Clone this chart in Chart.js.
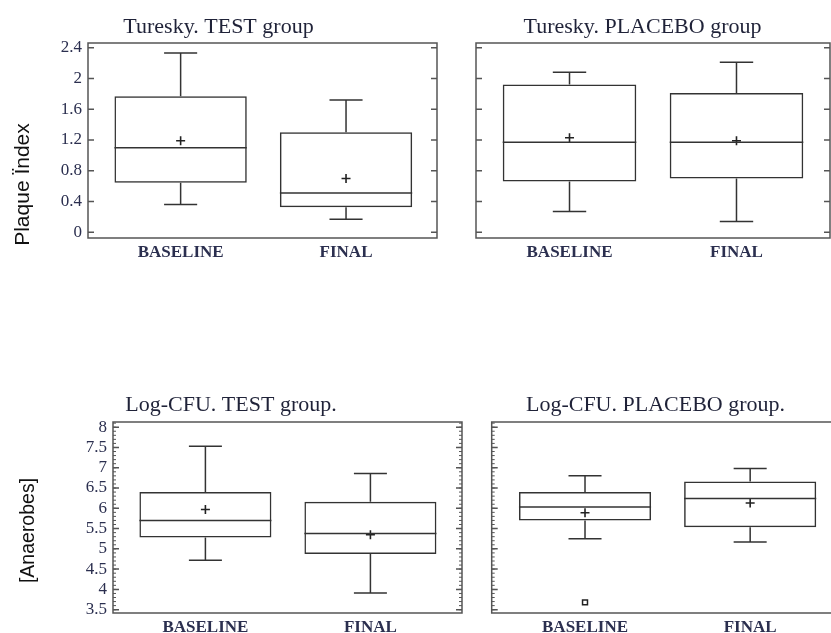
<!DOCTYPE html>
<html>
<head>
<meta charset="utf-8">
<script src="https://cdn.jsdelivr.net/npm/chart.js@4.4.1/dist/chart.umd.min.js"></script>
<style>
  html, body { margin: 0; padding: 0; background: #fff; overflow: hidden; width: 831px; height: 633px; }
  canvas { position: absolute; }
</style>
</head>
<body>
<canvas id="tl" width="512" height="270" style="left:0px;top:0px"></canvas>
<canvas id="tr" width="376" height="270" style="left:455px;top:0px"></canvas>
<canvas id="bl" width="559" height="253" style="left:0px;top:380px"></canvas>
<canvas id="br" width="372" height="253" style="left:470px;top:380px"></canvas>
<script>
const categories = ['BASELINE', 'FINAL'];
const tureskyTickLabels = ['0', '0.4', '0.8', '1.2', '1.6', '2', '2.4'];
const cfuTickLabels = ['3.5', '4', '4.5', '5', '5.5', '6', '6.5', '7', '7.5', '8'];

// each box: [min, q1, median, q3, max]
const tureskyTest = [[0.36, 0.645, 1.10, 1.77, 2.33], [0.17, 0.325, 0.51, 1.30, 1.72]];
const tureskyTestMean = [1.19, 0.70];
const tureskyPlacebo = [[0.27, 0.66, 1.17, 1.92, 2.08], [0.14, 0.70, 1.17, 1.81, 2.21]];
const tureskyPlaceboMean = [1.23, 1.19];
const cfuTest = [[4.72, 5.28, 5.70, 6.40, 7.53], [3.91, 4.87, 5.38, 6.16, 6.86]];
const cfuTestMean = [5.97, 5.35];
const cfuPlacebo = [[5.25, 5.70, 6.03, 6.40, 6.80], [5.17, 5.53, 6.24, 6.66, 6.98]];
const cfuPlaceboMean = [5.89, 6.13];
const cfuPlaceboOutliers = [3.68, null];

const serif = '"Liberation Serif", "Times New Roman", serif';
const inkColor = '#333';
const tickColor = '#2b2f4f';

// median line + whiskers, placed with the chart's own scales
const boxParts = {
  id: 'boxParts',
  afterDatasetsDraw(chart, args, opts) {
    const ctx = chart.ctx, xs = chart.scales.x, ys = chart.scales.y;
    const meta = chart.getDatasetMeta(0);
    const py = v => ys.getPixelForValue(v);
    ctx.save();
    ctx.strokeStyle = inkColor;
    ctx.lineWidth = 1.5;
    opts.box.forEach((b, i) => {
      const cx = xs.getPixelForValue(i + 1);
      const hw = meta.data[i].width / 2;
      const cap = xs.getPixelForValue(i + 1.1) - cx;
      ctx.beginPath();
      ctx.moveTo(cx - hw, py(b[2])); ctx.lineTo(cx + hw, py(b[2]));
      ctx.moveTo(cx, py(b[3])); ctx.lineTo(cx, py(b[4]));
      ctx.moveTo(cx - cap, py(b[4])); ctx.lineTo(cx + cap, py(b[4]));
      ctx.moveTo(cx, py(b[1])); ctx.lineTo(cx, py(b[0]));
      ctx.moveTo(cx - cap, py(b[0])); ctx.lineTo(cx + cap, py(b[0]));
      ctx.stroke();
    });
    ctx.restore();
  }
};

// frame with inward ticks on both sides, plus the side label
const frame = {
  id: 'frame',
  afterDraw(chart, args, opts) {
    const ctx = chart.ctx, ys = chart.scales.y;
    const {left, right, top, bottom} = chart.chartArea;
    ctx.save();
    ctx.strokeStyle = '#555';
    ctx.lineWidth = 1.5;
    ctx.strokeRect(left, top, right - left, bottom - top);
    ctx.beginPath();
    opts.major.forEach(v => {
      const p = ys.getPixelForValue(v);
      ctx.moveTo(left, p); ctx.lineTo(left + 6, p);
      ctx.moveTo(right, p); ctx.lineTo(right - 6, p);
    });
    ctx.stroke();
    if (opts.minorStep) {
      ctx.lineWidth = 1;
      ctx.beginPath();
      for (let v = ys.min; v <= ys.max; v += 0.01) {
        const r = Math.round(v * 100) / 100;
        if (Math.abs(r / opts.minorStep - Math.round(r / opts.minorStep)) > 1e-6) continue;
        const p = ys.getPixelForValue(r);
        ctx.moveTo(left, p); ctx.lineTo(left + 3, p);
        ctx.moveTo(right, p); ctx.lineTo(right - 3, p);
      }
      ctx.stroke();
    }
    if (opts.label) {
      ctx.translate(opts.labelX, opts.labelY);
      ctx.rotate(-Math.PI / 2);
      ctx.fillStyle = '#111';
      ctx.font = opts.labelSize + 'px "Liberation Sans", Arial, sans-serif';
      ctx.textAlign = 'center';
      ctx.textBaseline = 'middle';
      ctx.fillText(opts.label, 0, 0);
    }
    ctx.restore();
  }
};

function makePanel(id, cfg) {
  const majors = cfg.tickLabels.map(t => parseFloat(t));
  const datasets = [
    {
      type: 'bar',
      data: cfg.box.map((b, i) => ({x: i + 1, y: [b[1], b[3]]})),
      backgroundColor: 'rgba(0,0,0,0)',
      borderColor: inkColor,
      borderWidth: 1.5,
      borderSkipped: false,
      barPercentage: 0.8,
      categoryPercentage: 1
    },
    {
      type: 'scatter',
      data: cfg.mean.map((m, i) => ({x: i + 1, y: m})),
      pointStyle: 'cross',
      pointRadius: 4.5,
      borderColor: '#222',
      borderWidth: 1.6
    }
  ];
  if (cfg.outliers) {
    datasets.push({
      type: 'scatter',
      data: cfg.outliers.map((o, i) => ({x: i + 1, y: o})).filter(p => p.y !== null),
      pointStyle: 'rect',
      pointRadius: 3.5,
      backgroundColor: '#fff',
      borderColor: '#222',
      borderWidth: 1.5
    });
  }
  return new Chart(document.getElementById(id), {
    type: 'bar',
    data: {datasets: datasets},
    plugins: [boxParts, frame],
    options: {
      responsive: false,
      animation: false,
      layout: {autoPadding: false, padding: {left: 0, right: cfg.padRight, top: 0, bottom: 0}},
      plugins: {
        legend: {display: false},
        tooltip: {enabled: false},
        title: {
          display: true,
          text: cfg.title,
          color: '#1f2238',
          font: {family: serif, size: 22, weight: 'normal'},
          padding: {top: cfg.titleTop, bottom: cfg.titleBottom}
        },
        boxParts: {box: cfg.box},
        frame: {
          major: majors,
          minorStep: cfg.minorStep,
          label: cfg.yLabel,
          labelX: cfg.labelX,
          labelY: cfg.labelY,
          labelSize: cfg.labelSize
        }
      },
      scales: {
        x: {
          type: 'linear',
          min: cfg.xMin,
          max: cfg.xMax,
          offset: false,
          grid: {display: false, drawTicks: false},
          border: {display: false},
          afterBuildTicks: s => { s.ticks = categories.map((c, i) => ({value: i + 1})); },
          afterFit: s => { s.height = cfg.xHeight; s.paddingLeft = 0; s.paddingRight = 0; },
          ticks: {
            callback: v => categories[v - 1],
            color: tickColor,
            font: {family: serif, size: 17, weight: 'bold'},
            padding: 4,
            maxRotation: 0,
            autoSkip: false
          }
        },
        y: {
          type: 'linear',
          min: cfg.yMin,
          max: cfg.yMax,
          beginAtZero: false,
          grid: {display: false, drawTicks: false},
          border: {display: false},
          afterBuildTicks: s => { s.ticks = majors.map(v => ({value: v})); },
          afterFit: s => { s.width = cfg.yWidth; s.paddingTop = 0; s.paddingBottom = 0; },
          ticks: {
            display: cfg.showLabels,
            callback: (v, i) => cfg.tickLabels[i],
            color: tickColor,
            font: {family: serif, size: 17},
            padding: 6,
            autoSkip: false
          }
        }
      }
    }
  });
}

makePanel('tl', {
  title: 'Turesky. TEST group', box: tureskyTest, mean: tureskyTestMean,
  tickLabels: tureskyTickLabels, yMin: -0.074, yMax: 2.461, xMin: 0.44, xMax: 2.55,
  showLabels: true, yWidth: 88, xHeight: 32, padRight: 75, titleTop: 14, titleBottom: 2.6,
  yLabel: 'Plaque Ïndex', labelX: 23, labelY: 184.5, labelSize: 21
});
makePanel('tr', {
  title: 'Turesky. PLACEBO group', box: tureskyPlacebo, mean: tureskyPlaceboMean,
  tickLabels: tureskyTickLabels, yMin: -0.074, yMax: 2.461, xMin: 0.44, xMax: 2.56,
  showLabels: false, yWidth: 21, xHeight: 32, padRight: 1, titleTop: 14, titleBottom: 2.6
});
makePanel('bl', {
  title: 'Log-CFU. TEST group.', box: cfuTest, mean: cfuTestMean,
  tickLabels: cfuTickLabels, yMin: 3.418, yMax: 8.128, xMin: 0.44, xMax: 2.555,
  showLabels: true, yWidth: 113, xHeight: 20, padRight: 97, titleTop: 11.8, titleBottom: 3.8,
  minorStep: 0.1, yLabel: '[Anaerobes]', labelX: 29, labelY: 150.5, labelSize: 19.5
});
makePanel('br', {
  title: 'Log-CFU. PLACEBO group.', box: cfuPlacebo, mean: cfuPlaceboMean, outliers: cfuPlaceboOutliers,
  tickLabels: cfuTickLabels, yMin: 3.418, yMax: 8.128, xMin: 0.435, xMax: 2.55,
  showLabels: false, yWidth: 21.7, xHeight: 20, padRight: 1, titleTop: 11.8, titleBottom: 3.8,
  minorStep: 0.1
});
</script>
</body>
</html>
